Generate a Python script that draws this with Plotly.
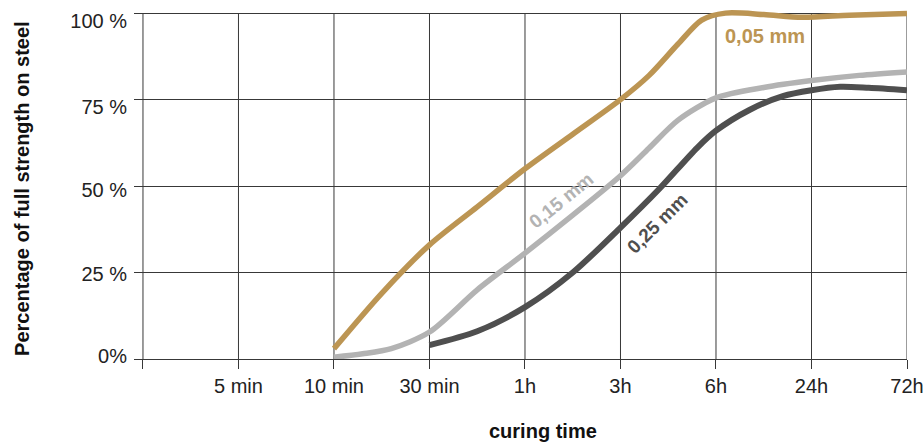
import plotly.graph_objects as go

# Axis categories (tick positions are category indices)
tick_labels = ["", "5 min", "10 min", "30 min", "1h", "3h", "6h", "24h", "72h"]
tick_pos = list(range(len(tick_labels)))
y_ticks = [0, 25, 50, 75, 100]
y_tick_labels = ["0%", "25 %", "50 %", "75 %", "100 %"]
# the printed percentage labels sit slightly off their grid lines
y_label_pos = [0.9, 24.7, 49, 72.8, 97.8]

# 0,05 mm series
x_005 = [2, 2.5, 3, 3.5, 4, 4.5, 5, 5.3, 5.6, 5.85, 6.1, 6.5, 6.9, 7.4, 8]
y_005 = [3, 19, 33, 44, 55, 65, 75, 82, 91, 98, 100, 99.6, 98.8, 99.4, 99.9]

# 0,15 mm series
x_015 = [2, 2.3, 2.6, 3, 3.5, 4, 4.5, 5, 5.3, 5.6, 6, 6.5, 7, 7.5, 8]
y_015 = [0.5, 1.5, 3, 7.8, 20, 30.6, 41.6, 53, 61, 69, 75.5, 78.5, 80.5, 82, 83]

# 0,25 mm series
x_025 = [3, 3.5, 4, 4.5, 5, 5.4, 5.8, 6, 6.35, 6.7, 7, 7.3, 7.6, 8]
y_025 = [4, 8, 15, 25, 38, 49, 61, 66, 72, 76, 77.7, 78.7, 78.4, 77.7]

GOLD = "#BC9553"
LIGHT = "#B3B3B3"
DARK = "#4F4F4F"
GRID = "#383838"
FONT = "Liberation Sans, Arial, sans-serif"
YRANGE = [0, 100.9]

fig = go.Figure()
for xs, ys, col, w in [(x_015, y_015, LIGHT, 5.5), (x_025, y_025, DARK, 6),
                       (x_005, y_005, GOLD, 5.5)]:
    fig.add_trace(go.Scatter(x=xs, y=ys, mode="lines",
                             line=dict(color=col, width=w, shape="spline", smoothing=0.8),
                             showlegend=False, hoverinfo="skip"))
# empty trace to carry the label axis
fig.add_trace(go.Scatter(x=[], y=[], yaxis="y2", showlegend=False, hoverinfo="skip"))

# vertical grid lines between 0 % and 100 %
for p in tick_pos:
    fig.add_shape(type="line", xref="x", yref="y", x0=p, x1=p, y0=0, y1=100,
                  line=dict(color=GRID, width=1), layer="below")

fig.update_layout(
    width=924, height=445,
    margin=dict(l=134, r=17, t=10, b=86, autoexpand=False),
    paper_bgcolor="white", plot_bgcolor="white",
    font=dict(family=FONT, size=20, color="#222222"),
    xaxis=dict(range=[-0.094, 8], tickmode="array", tickvals=tick_pos, ticktext=tick_labels,
               showgrid=False, zeroline=False, showline=True, linecolor=GRID, linewidth=1,
               ticks="outside", ticklen=9, tickcolor=GRID, tickwidth=1, automargin=False,
               ticklabelstandoff=0, tickfont=dict(size=20, family=FONT, color="#222222")),
    yaxis=dict(range=YRANGE, tickmode="array", tickvals=y_ticks, showticklabels=False,
               showgrid=True, gridcolor=GRID, gridwidth=1, zeroline=False, showline=False,
               automargin=False, ticks=""),
    yaxis2=dict(range=YRANGE, overlaying="y", side="left", tickmode="array",
                tickvals=y_label_pos, ticktext=y_tick_labels, showgrid=False, zeroline=False,
                showline=False, automargin=False, ticks="", ticklabelstandoff=6,
                tickfont=dict(size=20, family=FONT, color="#222222")),
)

fig.add_annotation(text="<b>curing time</b>", xref="paper", yref="paper", x=0.529, y=-0.205,
                   xanchor="center", yanchor="middle", showarrow=False,
                   font=dict(family=FONT, size=20, color="#111111"))
fig.add_annotation(text="<b>Percentage of full strength on steel</b>", xref="paper", yref="paper",
                   x=-0.145, y=0.49, xanchor="center", yanchor="middle", textangle=-90,
                   showarrow=False, font=dict(family=FONT, size=20, color="#111111"))

fig.add_annotation(text="<b>0,05 mm</b>", xref="paper", yref="paper", x=(765 - 134) / 773,
                   y=(359 - 36) / 349, xanchor="center", yanchor="middle", showarrow=False,
                   font=dict(family=FONT, size=20, color=GOLD))
fig.add_annotation(text="<b>0,15 mm</b>", xref="paper", yref="paper", x=(561 - 134) / 773,
                   y=(359 - 200) / 349, xanchor="center", yanchor="middle", showarrow=False,
                   textangle=-39, font=dict(family=FONT, size=19, color=LIGHT))
fig.add_annotation(text="<b>0,25 mm</b>", xref="paper", yref="paper", x=(657 - 134) / 773,
                   y=(359 - 223) / 349, xanchor="center", yanchor="middle", showarrow=False,
                   textangle=-45, font=dict(family=FONT, size=19, color=DARK))

fig.write_html("out.html", config={"displayModeBar": False},
               post_script="document.body.style.margin='0';document.body.style.overflow='hidden';")
